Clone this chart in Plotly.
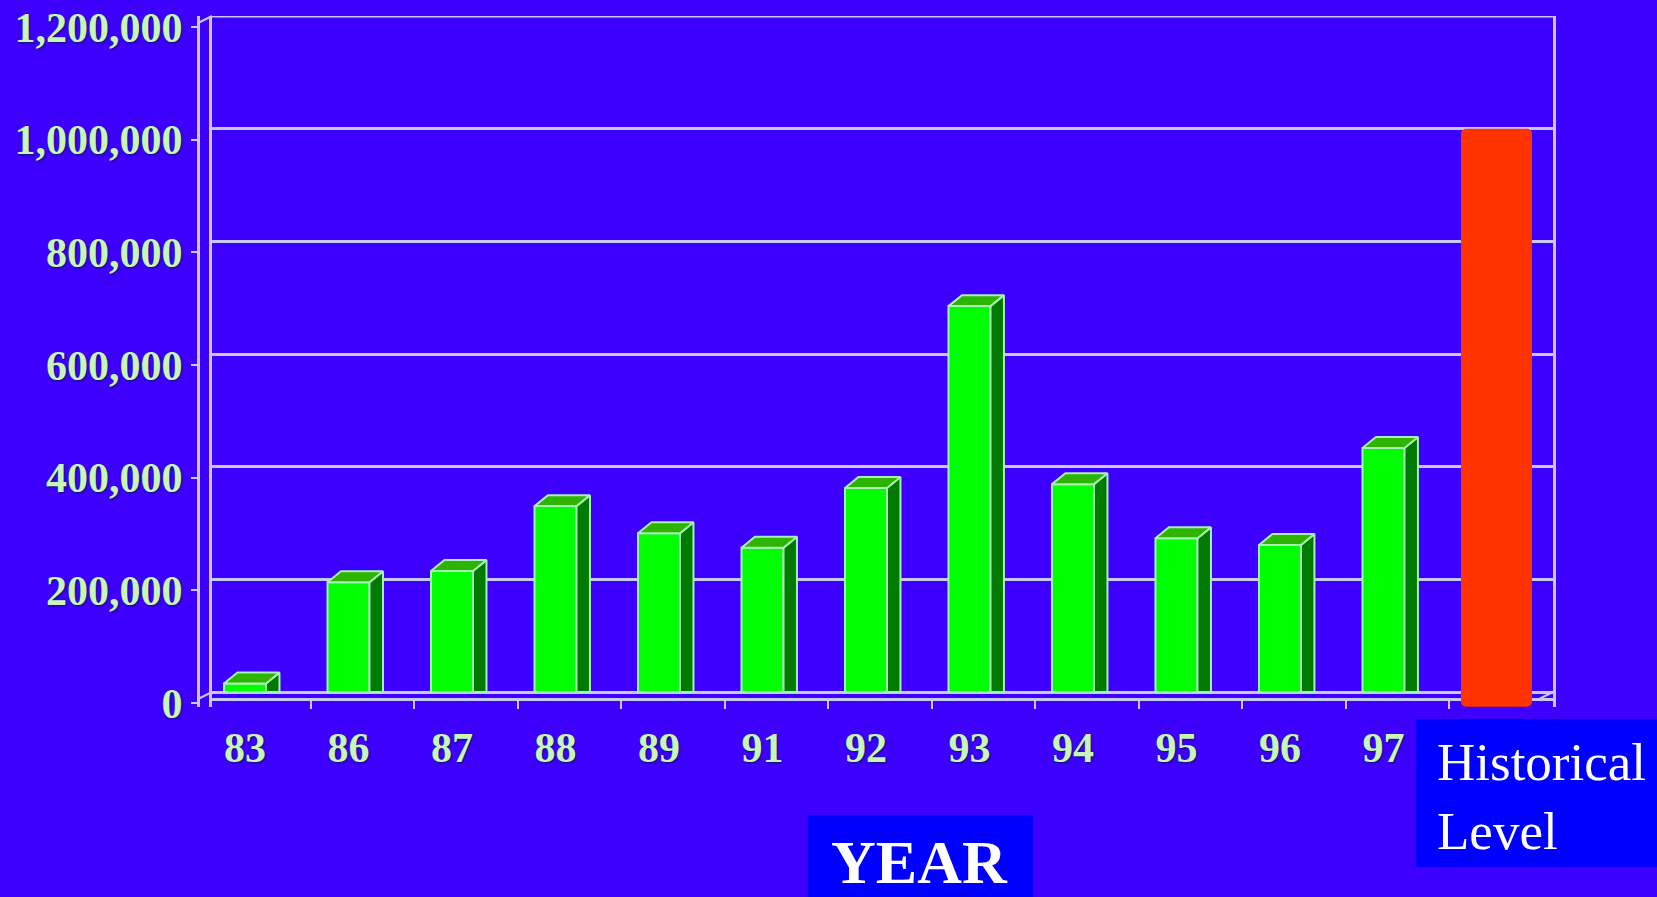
import plotly.graph_objects as go

# ---------------- data ----------------
YEAR_LABELS = ["83", "86", "87", "88", "89", "91", "92", "93", "94", "95", "96", "97"]
YEAR_VALUES = [15000, 195000, 215000, 330000, 282000, 256000, 362000, 685000,
               369000, 273000, 261000, 433000]
HISTORICAL_LABEL = "Historical<br>Level"
HISTORICAL_VALUE = 1000000
Y_TICKS = [0, 200000, 400000, 600000, 800000, 1000000, 1200000]
Y_TICK_LABELS = ["0", "200,000", "400,000", "600,000", "800,000", "1,000,000", "1,200,000"]
X_TITLE = "YEAR"

# ---------------- geometry / style ----------------
W, H = 1657, 897
ML, MR, MT, MB = 198, 104, 16, 190
PW, PH = W - ML - MR, H - MT - MB


def px_x(p):
    return (p - ML) / PW


def px_y(p):
    return (H - MB - p) / PH


BG = "#3D00FF"
LINE = "#C8C8F4"
LABEL = "#C8F5B8"
BAR_W = 0.406
DX = 0.13
DY = 19500
Y_MIN, Y_MAX = -26600, 1200000
SHIFT = 19500
RED_BASE = -26000

n = len(YEAR_VALUES)
hist_x = n

side_x, side_y, top_x, top_y = [], [], [], []
for i, v in enumerate(YEAR_VALUES):
    xl, xr = i - BAR_W / 2, i + BAR_W / 2
    side_x += [xr, xr + DX, xr + DX, xr, xr, None]
    side_y += [0, 0, v + DY, v, 0, None]
    top_x += [xl, xr, xr + DX, xl + DX, xl, None]
    top_y += [v, v, v + DY, v + DY, v, None]

fig = go.Figure()

fig.add_trace(go.Bar(
    x=list(range(n)), y=YEAR_VALUES, width=BAR_W, base=0,
    marker=dict(color="#00FF00", line=dict(color="#A8F0B8", width=2)),
    hoverinfo="skip", showlegend=False))

fig.add_trace(go.Bar(
    x=[hist_x], y=[HISTORICAL_VALUE - RED_BASE], base=[RED_BASE],
    width=0.686, offset=-0.251,
    marker=dict(color="#FF3300", line=dict(width=0), cornerradius=5),
    hoverinfo="skip", showlegend=False))

fig.add_trace(go.Scatter(
    x=side_x, y=side_y, mode="lines", fill="toself", fillcolor="#007A00",
    line=dict(color="#A8F0B8", width=2), hoverinfo="skip", showlegend=False))
fig.add_trace(go.Scatter(
    x=top_x, y=top_y, mode="lines", fill="toself", fillcolor="#2DB400",
    line=dict(color="#A8F0B8", width=2), hoverinfo="skip", showlegend=False))

# helper traces so that the overlaying axes are drawn
fig.add_trace(go.Scatter(x=[None], y=[None], xaxis="x", yaxis="y2",
                         hoverinfo="skip", showlegend=False))
fig.add_trace(go.Scatter(x=[None], y=[None], xaxis="x2", yaxis="y",
                         hoverinfo="skip", showlegend=False))

tick_font = dict(family="Liberation Serif, Times New Roman, serif",
                 size=42, color=LABEL, weight="bold",
                 shadow="1px 1px 2px #101070")

fig.update_layout(
    width=W, height=H,
    margin=dict(l=ML, r=MR, t=MT, b=MB, pad=0, autoexpand=False),
    paper_bgcolor=BG, plot_bgcolor=BG,
    barmode="overlay", showlegend=False,
    xaxis=dict(
        domain=[px_x(212), 1], range=[-0.319, 12.638], automargin=False,
        tickvals=list(range(n)), ticktext=YEAR_LABELS,
        ticks="", showgrid=False, zeroline=False, showline=False,
        tickfont=tick_font, ticklabelstandoff=12,
    ),
    xaxis2=dict(
        overlaying="x", anchor="free", position=px_y(699), automargin=False,
        domain=[0, px_x(1539)], range=[-0.454, 12.503],
        tickvals=[i + 0.5 for i in range(n)], showticklabels=False,
        ticks="outside", ticklen=8, tickwidth=2, tickcolor=LINE,
        showline=True, linecolor=LINE, linewidth=3,
        showgrid=False, zeroline=False, layer="below traces",
    ),
    yaxis=dict(
        range=[Y_MIN, Y_MAX], tickvals=Y_TICKS, showticklabels=False,
        automargin=False,
        ticks="", showgrid=True, gridcolor=LINE, gridwidth=3,
        zeroline=False, showline=True, mirror=True,
        linecolor=LINE, linewidth=3,
    ),
    yaxis2=dict(
        overlaying="y", anchor="free", position=0, side="left",
        automargin=False,
        range=[Y_MIN + SHIFT, Y_MAX + SHIFT],
        tickvals=Y_TICKS, ticktext=Y_TICK_LABELS,
        ticks="outside", ticklen=6, tickwidth=2, tickcolor=LINE,
        showline=True, linecolor=LINE, linewidth=3,
        showgrid=False, zeroline=False,
        tickfont=tick_font, ticklabelstandoff=0,
    ),
)

shapes = [
    # top edge of the back wall
    dict(type="line", xref="x domain", yref="y",
         x0=0, x1=1, y0=Y_MAX, y1=Y_MAX,
         line=dict(color=LINE, width=3)),
    # corner joins of the 3D frame
    dict(type="line", xref="paper", yref="paper",
         x0=px_x(198), y0=px_y(23), x1=px_x(212), y1=px_y(16),
         line=dict(color=LINE, width=2)),
    dict(type="line", xref="paper", yref="paper",
         x0=px_x(198), y0=px_y(699), x1=px_x(212), y1=px_y(692),
         line=dict(color=LINE, width=2)),
    dict(type="line", xref="paper", yref="paper",
         x0=px_x(1539), y0=px_y(699), x1=px_x(1553), y1=px_y(692),
         line=dict(color=LINE, width=2)),
    # text boxes
    dict(type="rect", xref="paper", yref="paper",
         x0=px_x(808), x1=px_x(1033), y0=px_y(897), y1=px_y(815),
         fillcolor="#0000FF", line=dict(width=0), layer="above"),
    dict(type="rect", xref="paper", yref="paper",
         x0=px_x(1416), x1=px_x(1657), y0=px_y(867), y1=px_y(719),
         fillcolor="#0000FF", line=dict(width=0), layer="above"),
]
fig.update_layout(shapes=shapes)

fig.add_annotation(
    text="<b>" + X_TITLE + "</b>", xref="paper", yref="paper",
    x=px_x(919), y=px_y(862), xanchor="center", yanchor="middle",
    showarrow=False,
    font=dict(family="Liberation Serif, Times New Roman, serif", size=62, color="white"))
fig.add_annotation(
    text=HISTORICAL_LABEL, xref="paper", yref="paper",
    x=px_x(1435), y=px_y(731), xanchor="left", yanchor="top", align="left",
    showarrow=False,
    font=dict(family="Liberation Serif, Times New Roman, serif", size=53, color="white"))

fig.write_html(
    "out.html",
    config={"displayModeBar": False},
    post_script="document.body.style.margin='0';document.body.style.overflow='hidden';")
